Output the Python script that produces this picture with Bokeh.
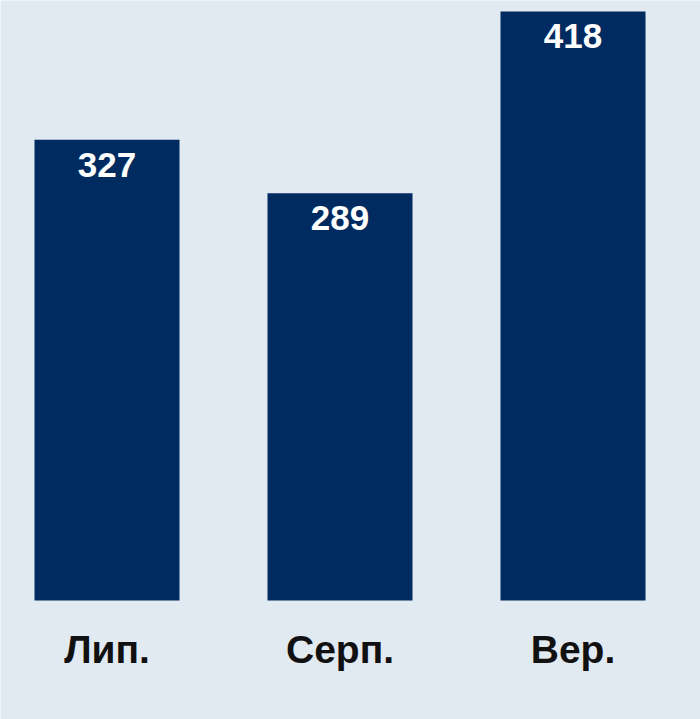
from bokeh.plotting import figure
from bokeh.models import Range1d, ColumnDataSource
from bokeh.core.properties import value
from bokeh.embed import file_html
from bokeh.resources import INLINE

categories = ["Лип.", "Серп.", "Вер."]
values = [327, 289, 418]

BG = "#e1e9f1"
BAR = "#002b61"

xs = list(range(len(categories)))
src = ColumnDataSource(dict(x=xs, top=values, base=[0] * len(values),
                            label=[str(v) for v in values], cat=categories))

p = figure(width=700, height=719, output_backend="svg", toolbar_location=None,
           x_range=Range1d(-0.4571, 2.5472), y_range=Range1d(-84.45, 425.8),
           min_border_left=0, min_border_right=0, min_border_top=0, min_border_bottom=0)
p.background_fill_color = BG
p.border_fill_color = BG
p.outline_line_color = None
p.grid.visible = False
p.axis.visible = False

p.vbar(x="x", top="top", width=0.6223, bottom=0, source=src, fill_color=BAR, line_color=None)
p.text(x="x", y="top", text="label", source=src, text_align="center", text_baseline="alphabetic",
       y_offset=25, text_color="white", text_font=value("Liberation Sans"), text_font_style="bold",
       text_font_size="35px")
p.text(x="x", y="base", text="cat", source=src, text_align="center", text_baseline="alphabetic",
       y_offset=49, text_color="#111111", text_font=value("Liberation Sans"), text_font_style="bold",
       text_font_size="39px")

open("out.html", "w").write(file_html(p, INLINE))
